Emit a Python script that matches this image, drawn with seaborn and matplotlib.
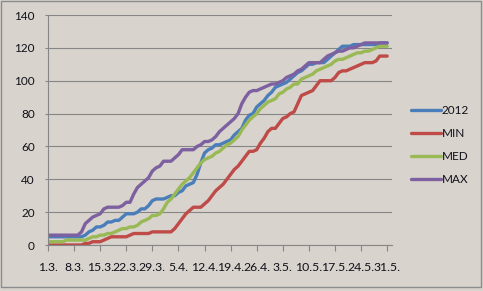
import matplotlib
matplotlib.use("Agg")
import matplotlib.pyplot as plt
from matplotlib.patches import Rectangle
from matplotlib.lines import Line2D
import seaborn as sns
import pandas as pd
import numpy as np

# ---- data (daily values, 1.3. .. 31.5.) ----
tick_labels = ["1.3.", "8.3.", "15.3.", "22.3.", "29.3.", "5.4.", "12.4.",
               "19.4.", "26.4.", "3.5.", "10.5.", "17.5.", "24.5.", "31.5."]

s2012 = [5, 5, 5, 5, 5, 5, 5, 5, 5, 5,
         6, 8, 9, 11, 11, 12, 14, 14, 15, 15,
         17, 19, 19, 19, 20, 22, 22, 24, 27, 28,
         28, 28, 29, 30, 30, 32, 33, 36, 37, 38,
         43, 50, 56, 58, 59, 61, 61, 62, 63, 64,
         67, 69, 71, 76, 79, 80, 84, 86, 88, 91,
         93, 96, 97, 98, 99, 101, 103, 105, 106, 108,
         110, 110, 111, 111, 111, 113, 115, 117, 119, 121,
         121, 121, 122, 122, 122, 122, 122, 122, 122, 123,
         123, 123]

s_min = [0, 0, 0, 0, 0, 0, 0, 0, 0, 0,
         1, 1, 2, 2, 2, 3, 4, 5, 5, 5,
         5, 5, 6, 7, 7, 7, 7, 7, 8, 8,
         8, 8, 8, 8, 10, 13, 16, 19, 21, 23,
         23, 23, 25, 27, 30, 33, 35, 37, 40, 43,
         46, 48, 51, 54, 57, 57, 58, 62, 65, 69,
         71, 71, 74, 77, 78, 80, 81, 86, 91, 92,
         93, 94, 97, 100, 100, 100, 100, 102, 105, 106,
         106, 107, 108, 109, 110, 111, 111, 111, 112, 115,
         115, 115]

s_med = [2, 2, 2, 2, 2, 3, 3, 3, 3, 3,
         3, 4, 5, 5, 6, 6, 7, 7, 8, 9,
         10, 10, 11, 11, 12, 14, 15, 16, 18, 18,
         19, 22, 26, 28, 31, 34, 37, 39, 41, 44,
         47, 50, 52, 53, 54, 56, 57, 59, 61, 62,
         64, 66, 70, 73, 76, 78, 80, 83, 85, 87,
         88, 89, 92, 93, 95, 96, 98, 98, 101, 102,
         103, 104, 106, 107, 108, 109, 110, 112, 113, 113,
         114, 115, 116, 117, 117, 118, 118, 119, 120, 121,
         121, 121]

s_max = [6, 6, 6, 6, 6, 6, 6, 6, 6, 8,
         13, 15, 17, 18, 19, 22, 23, 23, 23, 23,
         24, 26, 26, 31, 35, 37, 39, 41, 45, 47,
         48, 51, 51, 51, 53, 55, 58, 58, 58, 58,
         60, 61, 63, 63, 64, 66, 69, 71, 73, 75,
         77, 80, 86, 90, 93, 94, 94, 95, 96, 97,
         98, 98, 99, 100, 102, 103, 104, 106, 107, 109,
         111, 111, 111, 111, 113, 115, 116, 117, 118, 118,
         119, 120, 120, 121, 122, 123, 123, 123, 123, 123,
         123, 123]

series_names = ["2012", "MIN", "MED", "MAX"]
colors = ["#4A7EBB", "#BE4B48", "#98B954", "#7D60A0"]

frames = []
for name, vals in zip(series_names, [s2012, s_min, s_med, s_max]):
    frames.append(pd.DataFrame({"day": np.arange(len(vals)), "value": vals, "series": name}))
df = pd.concat(frames, ignore_index=True)

# ---- style ----
bg = "#D9D3CD"
grid_c = "#868686"
sns.set_style("white")
plt.rcParams["font.family"] = ["Lato", "DejaVu Sans"]

W, H = 483, 291
fig = plt.figure(figsize=(W / 100, H / 100), dpi=100, facecolor=bg)
ax = fig.add_axes([48 / W, 1 - 245 / H, (392 - 48) / W, (245 - 15) / H])
ax.set_facecolor(bg)

sns.lineplot(data=df, x="day", y="value", hue="series", hue_order=series_names,
             palette=colors, linewidth=2.4, ax=ax, legend=False)

ax.set_xlim(0, 92.3)
ax.set_ylim(0, 140)
ax.set_yticks(np.arange(0, 141, 20))
ax.set_xticks(np.arange(0, 92, 7))
ax.set_xticklabels(tick_labels)
ax.set_xlabel("")
ax.set_ylabel("")

ax.yaxis.grid(True, color=grid_c, linewidth=0.8)
ax.xaxis.grid(False)
ax.set_axisbelow(True)
for side in ["top", "right"]:
    ax.spines[side].set_visible(False)
for side in ["left", "bottom"]:
    ax.spines[side].set_color(grid_c)
    ax.spines[side].set_linewidth(0.8)

ax.tick_params(axis="y", which="major", direction="out", length=2.5, width=0.8,
               color=grid_c, labelsize=8.5, labelcolor="#10101a", pad=7, left=True)
ax.tick_params(axis="x", which="major", direction="out", length=4, width=0.8,
               color=grid_c, labelsize=8.8, labelcolor="#10101a", pad=8.5, bottom=True)

# legend
handles = [Line2D([0], [0], color=c, linewidth=2.4) for c in colors]
fig.legend(handles, series_names, loc="center left",
           bbox_to_anchor=(411 / W, 1 - 145 / H), frameon=False,
           fontsize=8.5, handlelength=2.5, handletextpad=0.1,
           labelspacing=1.0, borderpad=0, borderaxespad=0,
           labelcolor="#10101a")

# outer border
fig.patches.append(Rectangle((1 / W, 4 / H), (481 - 1) / W, (290 - 4) / H,
                             transform=fig.transFigure, fill=False,
                             edgecolor="#8C8C8C", linewidth=1.0))

fig.savefig("out.png", dpi=100, facecolor=bg)
